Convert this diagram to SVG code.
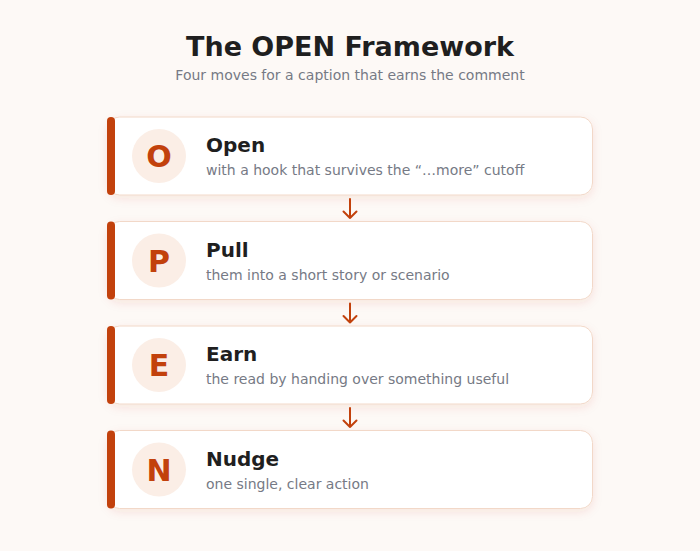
<svg xmlns="http://www.w3.org/2000/svg" width="700" height="551" viewBox="0 0 700 551">
<defs>
<style>
.title{font-family:"DejaVu Sans",sans-serif;font-weight:bold;font-size:27px;fill:#1f1f1f;text-anchor:middle}
.sub{font-family:"DejaVu Sans",sans-serif;font-size:14px;fill:#767a85;text-anchor:middle}
.card{fill:#ffffff;stroke:#f2d8c8;stroke-width:1}
.bar{fill:#c2410c}
.circ{fill:#fbeee6}
.letter{font-family:"DejaVu Sans",sans-serif;font-weight:bold;font-size:30px;fill:#c2410c;text-anchor:middle}
.head{font-family:"DejaVu Sans",sans-serif;font-weight:bold;font-size:20px;fill:#1f1f1f}
.desc{font-family:"DejaVu Sans",sans-serif;font-size:14px;fill:#767a85}
.conn{stroke:#c2410c;stroke-width:2;fill:none;stroke-linecap:round;stroke-linejoin:round}
</style>
<filter id="sh" x="-10%" y="-30%" width="120%" height="160%">
<feDropShadow dx="0" dy="3" stdDeviation="5" flood-color="#c2410c" flood-opacity="0.1"/>
</filter>
</defs>
<rect width="700" height="551" fill="#fdf9f6"/>
<text class="title" x="350" y="56">The OPEN Framework</text>
<text class="sub" x="350" y="80">Four moves for a caption that earns the comment</text>

<g id="node-O">
<rect class="card" x="107.5" y="117" width="485" height="78" rx="12" filter="url(#sh)"/>
<rect class="bar" x="107" y="117" width="8" height="78" rx="4"/>
<circle class="circ" cx="159" cy="156" r="27"/>
<text class="letter" x="159" y="167">O</text>
<text class="head" x="206" y="152">Open</text>
<text class="desc" x="206" y="175">with a hook that survives the “…more” cutoff</text>
</g>
<g id="node-P">
<rect class="card" x="107.5" y="221.5" width="485" height="78" rx="12" filter="url(#sh)"/>
<rect class="bar" x="107" y="221.5" width="8" height="78" rx="4"/>
<circle class="circ" cx="159" cy="260.5" r="27"/>
<text class="letter" x="159" y="271.5">P</text>
<text class="head" x="206" y="256.5">Pull</text>
<text class="desc" x="206" y="279.5">them into a short story or scenario</text>
</g>
<g id="node-E">
<rect class="card" x="107.5" y="326" width="485" height="78" rx="12" filter="url(#sh)"/>
<rect class="bar" x="107" y="326" width="8" height="78" rx="4"/>
<circle class="circ" cx="159" cy="365" r="27"/>
<text class="letter" x="159" y="376">E</text>
<text class="head" x="206" y="361">Earn</text>
<text class="desc" x="206" y="384">the read by handing over something useful</text>
</g>
<g id="node-N">
<rect class="card" x="107.5" y="430.5" width="485" height="78" rx="12" filter="url(#sh)"/>
<rect class="bar" x="107" y="430.5" width="8" height="78" rx="4"/>
<circle class="circ" cx="159" cy="469.5" r="27"/>
<text class="letter" x="159" y="480.5">N</text>
<text class="head" x="206" y="465.5">Nudge</text>
<text class="desc" x="206" y="488.5">one single, clear action</text>
</g>

<g id="connectors">
<path class="conn" d="M350 199 V218 M343.5 211.5 L350 218 L356.5 211.5"/>
<path class="conn" d="M350 303.5 V322.5 M343.5 316 L350 322.5 L356.5 316"/>
<path class="conn" d="M350 408 V427 M343.5 420.5 L350 427 L356.5 420.5"/>
</g>
</svg>
